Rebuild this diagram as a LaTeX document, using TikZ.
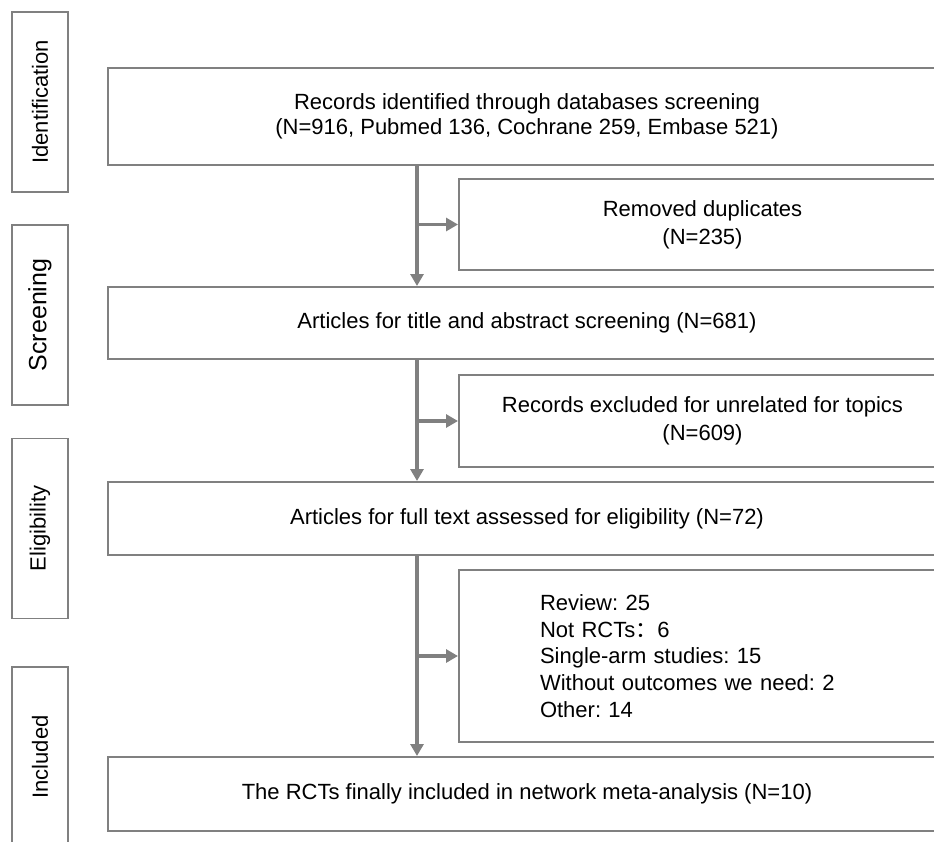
\documentclass[tikz,border=0pt]{standalone}
\usepackage{fontspec}
\setmainfont{Liberation Sans}
\newfontfamily\cjk{Noto Sans CJK SC}
\usetikzlibrary{arrows.meta}
\definecolor{framegray}{RGB}{128,128,128}
\frenchspacing

\begin{document}
\begin{tikzpicture}[x=1pt,y=-1pt,
  phase/.style={draw=framegray, line width=1.5pt, inner sep=0pt, rotate=90,
    minimum width=180pt, minimum height=56pt, font=\fontsize{22}{26}\selectfont},
  stage/.style={draw=framegray, line width=2pt, inner sep=0pt, align=center,
    font=\fontsize{22}{25}\selectfont},
  flow/.style={draw=framegray, line width=3.5pt, -{Triangle[length=12pt,width=13pt]}}]
  % Page frame
  \path[use as bounding box] (0,0) rectangle (934,841);
  \clip (0,0) rectangle (934,841);

  % Phase boxes
  \node[phase] (ident) at (40,102) {Identification};
  \node[phase, font=\fontsize{25}{30}\selectfont] (screen) at (40,315) {Screening};
  \node[phase] (elig) at (40,528.5) {Eligibility};
  \node[phase] (incl) at (40,757) {Included};

  % Flow boxes
  \node[stage, minimum width=838pt, minimum height=97pt] (records) at (527,116.5)
    {Records identified through databases screening\\(N=916, Pubmed 136, Cochrane 259, Embase 521)};
  \node[stage, minimum width=487pt, minimum height=91pt, font=\fontsize{22}{28}\selectfont] (dupl) at (702.5,224.5)
    {Removed duplicates\\(N=235)};
  \node[stage, minimum width=838pt, minimum height=72pt] (titles) at (527,323)
    {Articles for title and abstract screening (N=681)};
  \node[stage, minimum width=487pt, minimum height=92pt, font=\fontsize{22}{28}\selectfont] (unrel) at (702.5,421)
    {Records excluded for unrelated for topics\\(N=609)};
  \node[stage, minimum width=838pt, minimum height=73pt] (fulltext) at (527,518.5)
    {Articles for full text assessed for eligibility (N=72)};
  \node[stage, minimum width=487pt, minimum height=172pt, text width=325pt, align=left,
    font=\fontsize{22}{26.75}\selectfont] (reasons) at (702.5,656)
    {Review: 25\\Not RCTs{\cjk ：}6\\Single-arm studies: 15\\Without outcomes we need: 2\\Other: 14};
  \node[stage, minimum width=838pt, minimum height=74pt] (final) at (527,794)
    {The RCTs finally included in network meta-analysis (N=10)};

  % Arrows
  \coordinate (spine) at (417,0);
  \draw[flow] (records.south -| spine) -- (titles.north -| spine);
  \draw[flow] (titles.south -| spine) -- (fulltext.north -| spine);
  \draw[flow] (fulltext.south -| spine) -- (final.north -| spine);
  \draw[flow] (dupl.west -| spine) -- (dupl.west);
  \draw[flow] (unrel.west -| spine) -- (unrel.west);
  \draw[flow] (reasons.west -| spine) -- (reasons.west);
\end{tikzpicture}
\end{document}
